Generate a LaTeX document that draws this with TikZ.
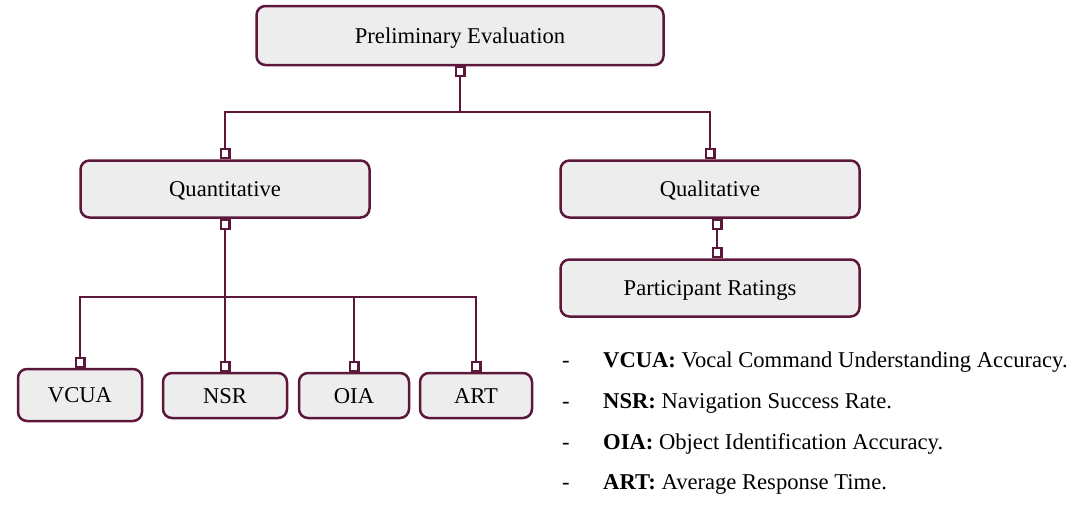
\documentclass[tikz,border=0pt]{standalone}
\usepackage{fontspec}
\setmainfont{Liberation Serif}
\usetikzlibrary{arrows.meta}
\definecolor{wine}{RGB}{92,24,58}
\definecolor{boxgray}{RGB}{237,237,237}
\tikzset{
	evalbox/.style = {draw = wine, fill = boxgray, line width = 2.5pt, rounded corners = 9pt, text height = 15pt, text depth = 0pt, font = \fontsize{22.6}{27}\selectfont},
	link/.style = {draw = wine, line width = 2.2pt, {Square[open, length = 11pt, width = 11pt]}-{Square[open, length = 11pt, width = 11pt]}},
	keyitem/.style = {anchor = base west, inner sep = 0pt, font = \fontsize{22.6}{27}\selectfont}
}
\begin{document}
\begin{tikzpicture}[x = 1pt, y = -1pt]
		\useasboundingbox (0, 0) rectangle (1078, 504);
		\node[evalbox, minimum width = 407pt, minimum height = 59pt] (prelim) at (460, 35.5) {Preliminary Evaluation};
		\node[evalbox, minimum width = 289pt, minimum height = 57pt] (quant) at (225, 189) {Quantitative};
		\node[evalbox, minimum width = 299pt, minimum height = 57pt] (qual) at (710, 189) {Qualitative};
		\node[evalbox, minimum width = 299pt, minimum height = 57pt] (part) at (710, 288) {Participant Ratings};
		\node[evalbox, minimum width = 124pt, minimum height = 52pt] (vcua) at (80, 395) {VCUA};
		\node[evalbox, minimum width = 124pt, minimum height = 45pt] (nsr) at (225, 395.5) {NSR};
		\node[evalbox, minimum width = 110pt, minimum height = 45pt] (oia) at (354, 395.5) {OIA};
		\node[evalbox, minimum width = 112pt, minimum height = 45pt] (art) at (476, 395.5) {ART};
		\coordinate (topbar) at (0, 112);
		\coordinate (lowbar) at (0, 297);
		\draw[link] (prelim.south) -- (prelim.south |- topbar) -| (quant.north);
		\draw[link] (prelim.south) -- (prelim.south |- topbar) -| (qual.north);
		\draw[link] ([xshift = 7pt]qual.south) -- ([xshift = 7pt]part.north);
		\foreach \leaf in {vcua, nsr, oia, art}{\draw[link] (quant.south) -- (quant.south |- lowbar) -| (\leaf.north);}
		\foreach \abbr/\desc/\y [count = \i] in {VCUA/Vocal Command Understanding Accuracy./367, NSR/Navigation Success Rate./408, OIA/Object Identification Accuracy./449, ART/Average Response Time./489}{
			\node[keyitem] (dash\i) at (562, \y) {-};
			\node[keyitem] (key\i) at (603, \y) {\textbf{\abbr:} \desc};
		}
	\end{tikzpicture}
\end{document}
